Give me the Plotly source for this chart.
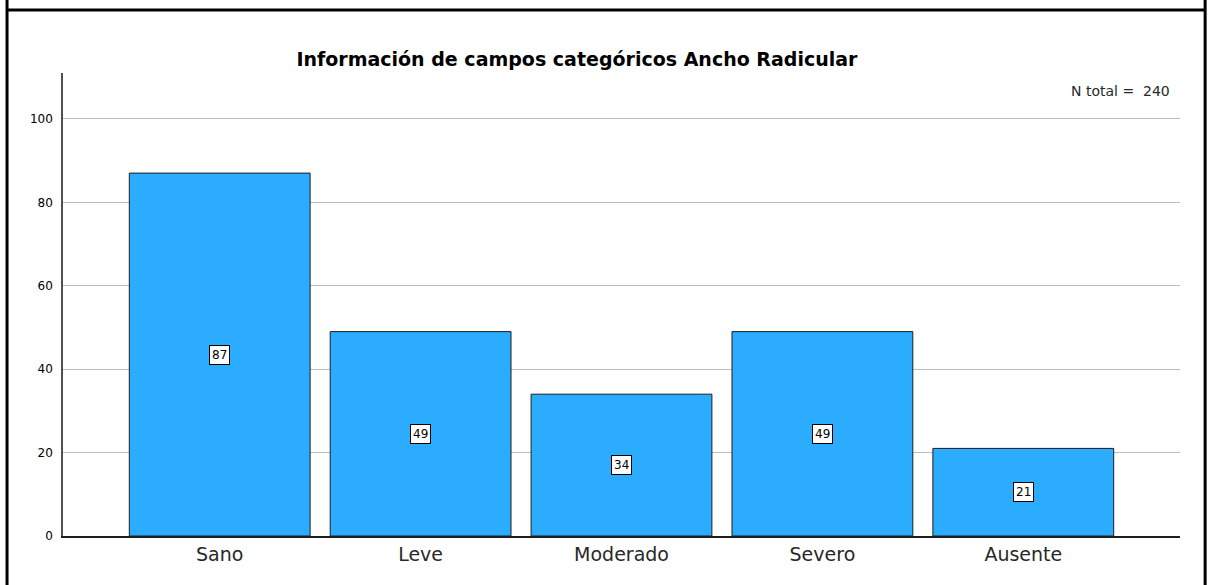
import plotly.graph_objects as go

categorias = ["Sano", "Leve", "Moderado", "Severo", "Ausente"]
conteos = [87, 49, 34, 49, 21]
titulo = "Información de campos categóricos Ancho Radicular"
n_total = 240

FUENTE = "DejaVu Sans, Arial"

fig = go.Figure([go.Bar(
    x=categorias,
    y=conteos,
    width=0.9,
    marker=dict(color="rgb(43,172,255)", line=dict(color="rgb(30,30,30)", width=1)),
    hoverinfo="x+y",
)])

# etiquetas de valor dentro de cada barra
for cat, val in zip(categorias, conteos):
    fig.add_annotation(
        x=cat, y=val / 2, text=str(val), showarrow=False,
        font=dict(family=FUENTE, size=12, color="black"),
        bgcolor="white", bordercolor="black", borderwidth=1, borderpad=2,
    )

fig.add_annotation(
    xref="paper", yref="paper", x=0.993, y=0.961, xanchor="right", yanchor="middle",
    text=f"N total =  {n_total}", showarrow=False,
    font=dict(family=FUENTE, size=14, color="rgb(40,40,40)"),
)

# marco exterior (celda de tabla)
frame = dict(color="black", width=3)
fig.add_shape(type="line", xref="paper", yref="paper", x0=-0.0501, x1=-0.0501, y0=-0.2, y1=1.2, line=frame)
fig.add_shape(type="line", xref="paper", yref="paper", x0=1.0225, x1=1.0225, y0=-0.2, y1=1.2, line=frame)
fig.add_shape(type="line", xref="paper", yref="paper", x0=-0.0501, x1=1.0225, y0=1.136, y1=1.136, line=frame)

fig.update_layout(
    width=1212, height=585,
    margin=dict(l=63, r=32, t=73, b=49),
    plot_bgcolor="white",
    paper_bgcolor="white",
    showlegend=False,
    title=dict(
        text=f"<b>{titulo}</b>", x=0.476, xanchor="center", y=0.899, yanchor="middle",
        font=dict(family=FUENTE, size=19, color="black"),
    ),
    font=dict(family=FUENTE, color="rgb(30,30,30)"),
)
fig.update_xaxes(
    range=[-0.78, 4.78], showline=True, linecolor="rgb(30,30,30)", linewidth=1.5,
    ticks="", tickfont=dict(size=19, color="rgb(40,40,40)"), showgrid=False,
)
fig.update_yaxes(
    range=[0, 111], dtick=20, showline=True, linecolor="rgb(80,80,80)", linewidth=1.5,
    showgrid=True, gridcolor="rgb(190,190,190)", gridwidth=1, zeroline=False,
    ticks="", tickfont=dict(size=12, color="black"), ticklabelstandoff=6,
)

# sin margen del cuerpo, para que la figura ocupe la ventana entera
fig.write_html(
    "out.html",
    config={"displayModeBar": False},
    post_script="document.body.style.margin='0';document.body.style.overflow='hidden';",
)
